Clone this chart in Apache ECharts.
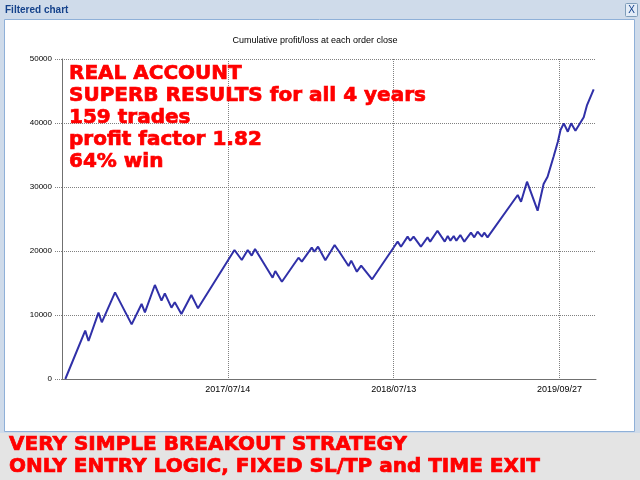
<!DOCTYPE html>
<html>
<head>
<meta charset="utf-8">
<script src="https://cdn.jsdelivr.net/npm/echarts@6/dist/echarts.min.js"></script>
<style>
html,body{margin:0;padding:0;background:#e4e4e4;}
#c{width:640px;height:480px;}
</style>
</head>
<body>
<div id="c"></div>
<script>
// Trade number (x) and cumulative profit/loss (y) at each visible turning point
var tradeIndex = [1, 7, 8, 11, 12, 16, 21, 24, 25, 28, 30, 31, 33, 34, 36, 39, 41,
  52, 54.2, 56, 57.2, 58.2, 63.5, 64.3, 66.3, 71.3, 72.3, 75.3, 76.1, 77.2, 79.4, 82.2, 83.9,
  86.4, 87.2, 88.9, 90.2, 93.5, 100.5, 101.2, 102.2, 104.2, 105, 106, 108.2, 110.2, 111,
  113.2, 115.4, 116.3, 117.1, 118.1, 118.9, 120.1, 121.3, 123.3, 124.3, 125.3, 126.6, 127.3,
  128.3, 137.4, 138.4, 140.2, 143.4, 145.2, 146.4, 148.2, 149.5, 150.3, 151.3, 152.5, 153.5,
  154.8, 157.3, 158.3, 160.3];
var cumulativePL = [0, 7550, 5940, 10360, 8860, 13540, 8540, 11720, 10420, 14690, 12240, 13390, 11140, 11980, 10160, 13130, 11040,
  20160, 18590, 20160, 19270, 20310, 15830, 16875, 15200, 18950, 18330, 20520, 19890, 20670, 18550, 20940, 19640,
  17660, 18490, 16770, 17710, 15580, 20940, 21460, 20670, 22240, 21610, 22240, 20670, 22140, 21460,
  23170, 21460, 22340, 21610, 22340, 21610, 22500, 21460, 22860, 22140, 23020, 22240, 22860,
  22140, 28750, 27700, 30830, 26300, 30470, 31610, 34730, 37080, 38900, 39950, 38640, 39950,
  38800, 40890, 42810, 45270];
var dateTickValues = [50, 100, 150];
var dateTickLabels = ['2017/07/14', '2018/07/13', '2019/09/27'];
var yTicks = [0, 10000, 20000, 30000, 40000, 50000];
var chartTitle = 'Cumulative profit/loss at each order close';
var windowTitle = 'Filtered chart';
var noteLines = ['REAL ACCOUNT', 'SUPERB RESULTS for all 4 years', '159 trades', 'profit factor 1.82', '64% win'];
var footerLines = ['VERY SIMPLE BREAKOUT STRATEGY', 'ONLY ENTRY LOGIC, FIXED SL/TP and TIME EXIT'];

var points = tradeIndex.map(function (x, i) { return [x, cumulativePL[i]]; });
var labelMap = {};
dateTickValues.forEach(function (v, i) { labelMap[v] = dateTickLabels[i]; });

var graphics = [
  // window frame
  { type: 'rect', z: -10, shape: { x: 0, y: 0, width: 640, height: 433 }, style: { fill: '#cfdbea' } },
  { type: 'rect', z: -10, shape: { x: 0, y: 433, width: 640, height: 47 }, style: { fill: '#e4e4e4' } },
  { type: 'rect', z: -9, shape: { x: 4.5, y: 19.5, width: 630, height: 412 }, style: { fill: '#ffffff', stroke: '#8fb0d8', lineWidth: 1 } },
  { type: 'text', z: 5, x: 5, y: 10, style: { text: windowTitle, font: 'bold 10px "Liberation Sans"', fill: '#15428b', textVerticalAlign: 'middle' } },
  { type: 'rect', z: 5, shape: { x: 625.5, y: 3.5, width: 12, height: 13, r: 1 }, style: { fill: '#e3ecf7', stroke: '#7f9db9', lineWidth: 1 } },
  { type: 'text', z: 6, x: 631.5, y: 10.5, style: { text: 'X', font: '10px "Liberation Sans"', fill: '#15428b', textAlign: 'center', textVerticalAlign: 'middle' } }
];
var noteBaselines = [84, 106, 128, 149.5, 171.5];
noteLines.forEach(function (t, i) {
  graphics.push({ type: 'text', z: 10, x: 69, y: noteBaselines[i], style: { text: t, font: 'bold 20px "DejaVu Sans"', fill: '#ff0000', stroke: '#ff0000', lineWidth: 0.7, textVerticalAlign: 'bottom' } });
});
var footerBaselines = [455, 477];
footerLines.forEach(function (t, i) {
  graphics.push({ type: 'text', z: 10, x: 9, y: footerBaselines[i], style: { text: t, font: 'bold 20px "DejaVu Sans"', fill: '#ff0000', stroke: '#ff0000', lineWidth: 0.7, textVerticalAlign: 'bottom' } });
});

var chart = echarts.init(document.getElementById('c'), null, { renderer: 'canvas' });
chart.setOption({
  animation: false,
  backgroundColor: 'transparent',
  title: {
    text: chartTitle, left: 310, top: 31, textAlign: 'center',
    textStyle: { fontFamily: 'Liberation Sans', fontSize: 9, fontWeight: 'normal', color: '#000' }
  },
  graphic: graphics,
  grid: { left: 62, right: 44, top: 59, bottom: 101, containLabel: false },
  xAxis: {
    type: 'value', min: 0, max: 161, interval: 50,
    axisLine: { show: true, lineStyle: { color: '#707070', width: 1 } },
    axisTick: { show: false },
    splitLine: { show: true, showMinLine: false, showMaxLine: false, lineStyle: { color: '#808080', type: [1, 1], width: 1 } },
    axisLabel: {
      margin: 6, fontFamily: 'Liberation Sans', fontSize: 9, color: '#000',
      showMinLabel: false, showMaxLabel: false,
      formatter: function (v) { return labelMap[v] || ''; }
    }
  },
  yAxis: {
    type: 'value', min: yTicks[0], max: yTicks[yTicks.length - 1], interval: 10000,
    axisLine: { show: true, lineStyle: { color: '#707070', width: 1 } },
    axisTick: { show: true, length: 8, lineStyle: { color: '#808080', type: [1, 1] } },
    splitLine: { show: true, showMinLine: false, lineStyle: { color: '#808080', type: [1, 1], width: 1 } },
    axisLabel: { margin: 10, fontFamily: 'Liberation Sans', fontSize: 8, color: '#000', formatter: function (v) { return String(v); } }
  },
  series: [{
    type: 'line', data: points, symbol: 'none', smooth: false,
    lineStyle: { color: '#3030a8', width: 2 },
    z: 3
  }]
});
</script>
</body>
</html>
